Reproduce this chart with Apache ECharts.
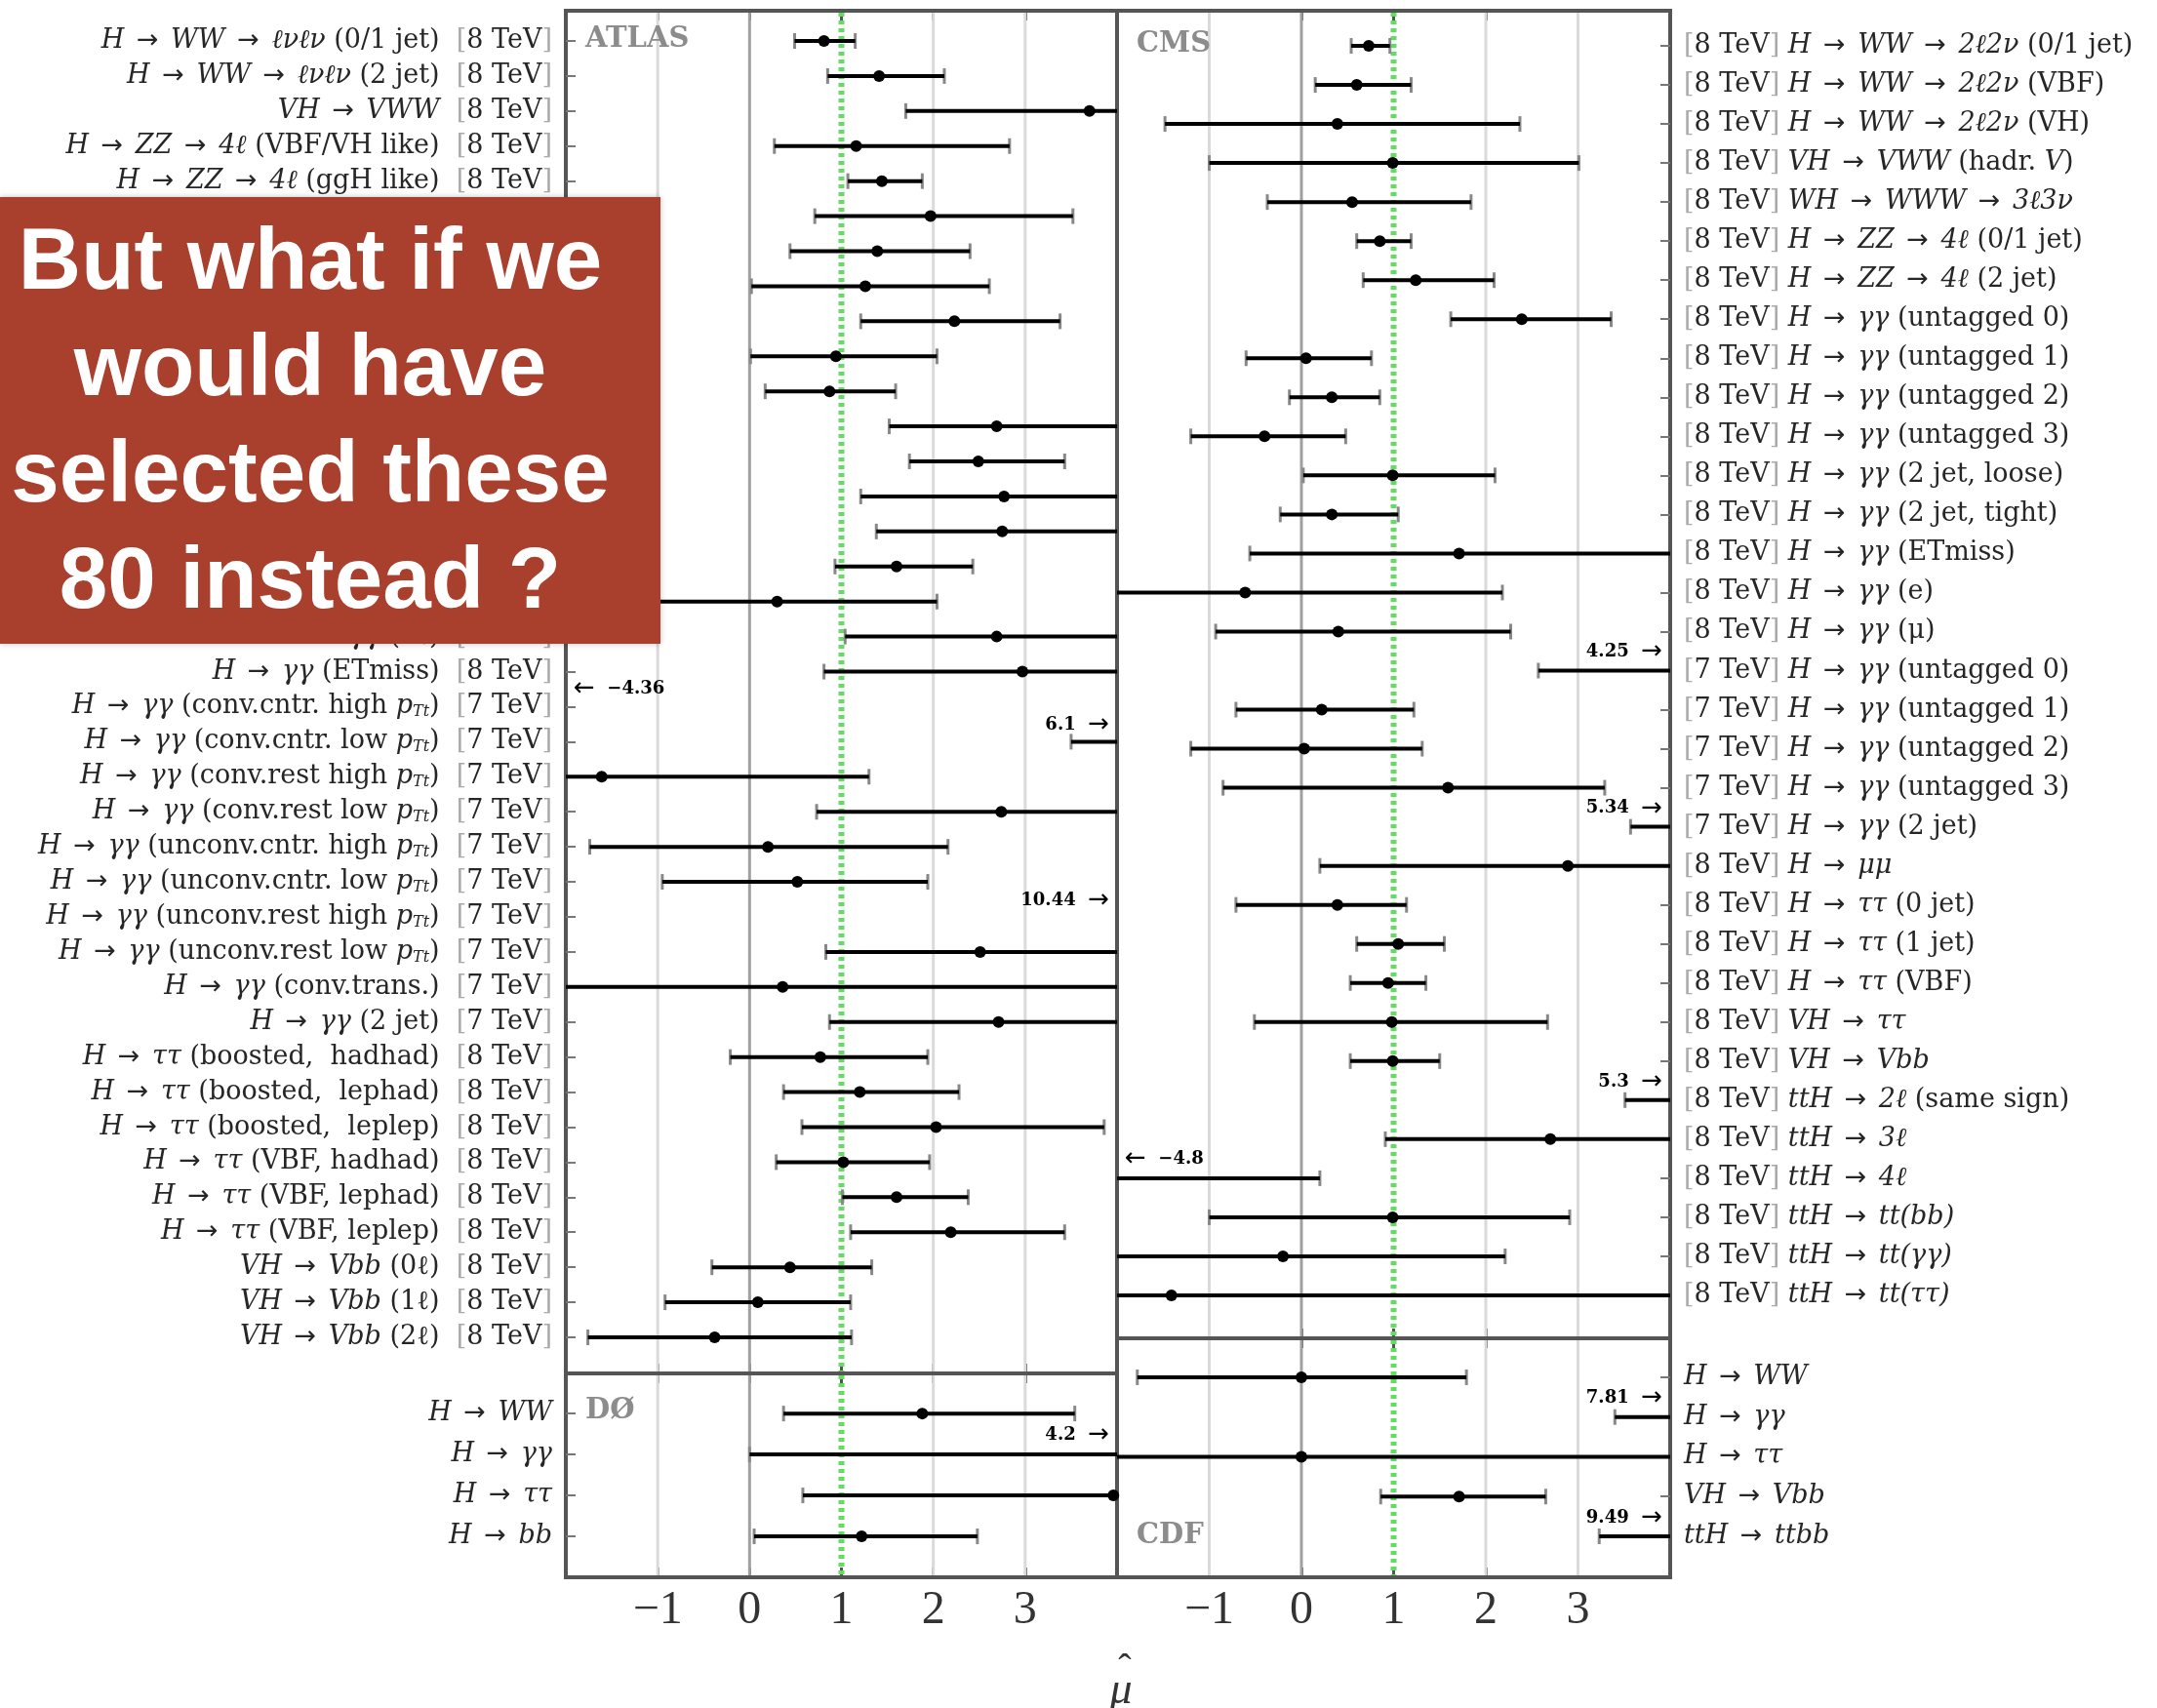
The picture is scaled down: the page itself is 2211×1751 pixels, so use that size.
<!DOCTYPE html>
<html><head><meta charset="utf-8">
<script src="https://cdn.jsdelivr.net/npm/echarts@6/dist/echarts.min.js"></script>
<style>html,body{margin:0;padding:0;background:#fff}#c{width:2211px;height:1751px}</style>
</head><body><div id="c"></div>
<script>
// ---------------- DATA ----------------
const atlasProc = ['H → WW → ℓνℓν','H → WW → ℓνℓν','VH → VWW','H → ZZ → 4ℓ','H → ZZ → 4ℓ',
 'H → γγ','H → γγ','H → γγ','H → γγ','H → γγ','H → γγ','H → γγ','H → γγ','H → γγ','H → γγ','H → γγ','H → γγ','H → γγ','H → γγ',
 'H → γγ','H → γγ','H → γγ','H → γγ','H → γγ','H → γγ','H → γγ','H → γγ','H → γγ','H → γγ',
 'H → ττ','H → ττ','H → ττ','H → ττ','H → ττ','H → ττ',
 'VH → Vbb','VH → Vbb','VH → Vbb'];
const atlasTag = ['(0/1 jet)','(2 jet)','','(VBF/VH like)','(ggH like)',
 '(conv.cntr. high pTt)','(conv.cntr. low pTt)','(conv.rest high pTt)','(conv.rest low pTt)','(unconv.cntr. high pTt)','(unconv.cntr. low pTt)','(unconv.rest high pTt)','(unconv.rest low pTt)','(conv.trans.)','(2 jet, loose)','(2 jet, tight)','(low mass 2 jet)','(1ℓ)','(ETmiss)',
 '(conv.cntr. high pTt)','(conv.cntr. low pTt)','(conv.rest high pTt)','(conv.rest low pTt)','(unconv.cntr. high pTt)','(unconv.cntr. low pTt)','(unconv.rest high pTt)','(unconv.rest low pTt)','(conv.trans.)','(2 jet)',
 '(boosted,  hadhad)','(boosted,  lephad)','(boosted,  leplep)','(VBF, hadhad)','(VBF, lephad)','(VBF, leplep)',
 '(0ℓ)','(1ℓ)','(2ℓ)'];
const atlasE = ['8 TeV','8 TeV','8 TeV','8 TeV','8 TeV','8 TeV','8 TeV','8 TeV','8 TeV','8 TeV','8 TeV','8 TeV','8 TeV','8 TeV','8 TeV','8 TeV','8 TeV','8 TeV','8 TeV',
 '7 TeV','7 TeV','7 TeV','7 TeV','7 TeV','7 TeV','7 TeV','7 TeV','7 TeV','7 TeV',
 '8 TeV','8 TeV','8 TeV','8 TeV','8 TeV','8 TeV','8 TeV','8 TeV','8 TeV'];
const atlasMu = [0.81,1.41,3.70,1.16,1.44, 1.97,1.39,1.26,2.23,0.94,0.87,2.69,2.49,2.77,2.75,1.60,0.30,2.69,2.97,
 -4.36,6.1,-1.61,2.74,0.20,0.52,10.44,2.51,0.36,2.71, 0.77,1.20,2.03,1.02,1.60,2.19, 0.44,0.09,-0.38];
const atlasLo = [0.49,0.85,1.70,0.27,1.07, 0.71,0.44,0.02,1.21,0.01,0.17,1.52,1.74,1.21,1.38,0.93,-2.60,1.04,0.81,
 -6.90,3.50,-4.60,0.73,-1.74,-0.95,4.60,0.83,-3.80,0.87, -0.21,0.37,0.57,0.29,1.01,1.10, -0.41,-0.92,-1.76];
const atlasHi = [1.15,2.12,5.90,2.83,1.88, 3.52,2.40,2.61,3.38,2.04,1.59,4.30,3.43,4.40,4.20,2.43,2.04,4.50,5.20,
 -2.20,8.80,1.30,4.80,2.16,1.94,16.30,4.20,4.50,4.60, 1.94,2.28,3.86,1.96,2.38,3.43, 1.33,1.10,1.11];

const cmsE = ['8 TeV','8 TeV','8 TeV','8 TeV','8 TeV','8 TeV','8 TeV','8 TeV','8 TeV','8 TeV','8 TeV','8 TeV','8 TeV','8 TeV','8 TeV','8 TeV',
 '7 TeV','7 TeV','7 TeV','7 TeV','7 TeV',
 '8 TeV','8 TeV','8 TeV','8 TeV','8 TeV','8 TeV','8 TeV','8 TeV','8 TeV','8 TeV','8 TeV','8 TeV'];
const cmsProc = ['H → WW → 2ℓ2ν','H → WW → 2ℓ2ν','H → WW→ 2ℓ2ν','VH → VWW','WH →WWW →3ℓ3ν','H → ZZ → 4ℓ','H → ZZ → 4ℓ',
 'H → γγ','H → γγ','H → γγ','H → γγ','H → γγ','H → γγ','H → γγ','H → γγ','H → γγ',
 'H → γγ','H → γγ','H → γγ','H → γγ','H → γγ',
 'H → μμ','H → ττ','H → ττ','H → ττ','VH → ττ','VH → Vbb','ttH → 2ℓ','ttH → 3ℓ','ttH → 4ℓ','ttH → tt(bb)','ttH → tt(γγ)','ttH → tt(ττ)'];
const cmsTag = ['(0/1 jet)','(VBF)','(VH)','(hadr. V)','','(0/1 jet)','(2 jet)',
 '(untagged 0)','(untagged 1)','(untagged 2)','(untagged 3)','(2 jet, loose)','(2 jet, tight)','(ETmiss)','(e)','(μ)',
 '(untagged 0)','(untagged 1)','(untagged 2)','(untagged 3)','(2 jet)',
 '','(0 jet)','(1 jet)','(VBF)','','','(same sign)','','','','',''];
const cmsMu = [0.73,0.60,0.39,0.99,0.55,0.85,1.24,2.39,0.05,0.33,-0.40,0.99,0.33,1.71,-0.61,0.40,
 4.25,0.22,0.03,1.59,5.34,2.89,0.39,1.05,0.94,0.98,0.99,5.3,2.70,-4.8,0.99,-0.20,-1.41];
const cmsLo = [0.54,0.15,-1.48,-1.00,-0.37,0.60,0.67,1.62,-0.60,-0.13,-1.20,0.02,-0.23,-0.56,-3.10,-0.93,
 2.57,-0.71,-1.20,-0.85,3.57,0.20,-0.71,0.60,0.53,-0.51,0.53,3.51,0.91,-9.00,-1.00,-2.40,-4.50];
const cmsHi = [0.96,1.19,2.37,3.01,1.84,1.19,2.09,3.36,0.76,0.85,0.48,2.10,1.05,4.60,2.18,2.27,
 6.10,1.22,1.31,3.29,7.40,5.60,1.14,1.55,1.35,2.67,1.50,7.40,5.00,0.20,2.91,2.21,4.60];

const d0Proc = ['H → WW','H → γγ','H → ττ','H → bb'];
const d0Mu = [1.88,4.2,3.96,1.22];
const d0Lo = [0.37,0.00,0.58,0.05];
const d0Hi = [3.54,8.80,8.00,2.48];

const cdfProc = ['H → WW','H → γγ','H → ττ','VH → Vbb','ttH → ttbb'];
const cdfMu = [0.00,7.81,0.00,1.71,9.49];
const cdfLo = [-1.78,3.40,-3.00,0.86,3.23];
const cdfHi = [1.79,12.40,4.40,2.65,16.00];

const xTickVals = [-1,0,1,2,3];
const gridVals = [-1,0,2,3];
const smVal = 1;
const panelNames = ['ATLAS','CMS','DØ','CDF'];

// ---------------- CHART ----------------
const XMIN = -2, XMAX = 4;
const SERIF = 'DejaVu Serif';
const FS = 27;
const rich = {
  m: {fontFamily: SERIF, fontStyle: 'italic', fontSize: FS, color: '#262626'},
  r: {fontFamily: SERIF, fontSize: FS, color: '#262626'},
  a: {fontFamily: 'DejaVu Sans', fontSize: FS, color: '#262626', padding: [0, 4]},
  g: {fontFamily: SERIF, fontSize: FS, color: '#aaa'},
  s: {fontFamily: SERIF, fontStyle: 'italic', fontSize: 16, color: '#262626', verticalAlign: 'bottom'}
};
function tagRich(t) {
  if (!t) return '';
  return '{r| ' + t.replace('pTt', '}{m|p}{s|Tt}{r|').replace('hadr. V)', 'hadr. }{m|V}{r|)') + '}';
}
function procRich(p) {
  return p.split('→').map(s => '{m|' + s.trim() + '}').join('{a| → }');
}
function idx(n) { const a = []; for (let i = 0; i < n; i++) a.push(i); return a; }

const grids = [
  {left: 580, top: 11, width: 565, height: 1397},
  {left: 1145, top: 11, width: 567, height: 1361},
  {left: 580, top: 1408, width: 565, height: 209},
  {left: 1145, top: 1372, width: 567, height: 245}
];
const yRanges = [[-0.863, 38.03], [-0.9, 33.1], [-0.98, 4.0], [-0.98, 5.03]];
const nRows = [atlasMu.length, cmsMu.length, d0Mu.length, cdfMu.length];
const labelFmt = [
  v => { const i = Math.round(v); return procRich(atlasProc[i]) + tagRich(atlasTag[i]) + '{r|  }{g|[}{r|' + atlasE[i] + '}{g|]}'; },
  v => { const i = Math.round(v); return '{g|[}{r|' + cmsE[i] + '}{g|]}{r| }' + procRich(cmsProc[i]) + tagRich(cmsTag[i]); },
  v => procRich(d0Proc[Math.round(v)]),
  v => procRich(cdfProc[Math.round(v)])
];
const ySide = ['left','right','left','right'];

const xAxes = [], yAxes = [];
for (let k = 0; k < 4; k++) {
  const bottomPanel = k >= 2;
  xAxes.push({
    gridIndex: k, type: 'value', min: XMIN, max: XMAX, position: 'bottom',
    axisLine: {show: false, onZero: false}, splitLine: {show: false},
    axisTick: {show: true, inside: true, length: 10, customValues: xTickVals, lineStyle: {color: '#555', width: 3}},
    axisLabel: {show: bottomPanel, customValues: xTickVals, margin: 10,
      formatter: v => (v < 0 ? '−' + (-v) : String(v)),
      fontFamily: 'Liberation Serif', fontSize: 48, color: '#333'}
  });
}
for (let k = 0; k < 4; k++) {
  xAxes.push({
    gridIndex: k, type: 'value', min: XMIN, max: XMAX, position: 'top',
    axisLine: {show: false, onZero: false}, splitLine: {show: false}, axisLabel: {show: false},
    axisTick: {show: true, inside: true, length: 10, customValues: xTickVals, lineStyle: {color: '#555', width: 3}}
  });
}
for (let k = 0; k < 4; k++) {
  yAxes.push({
    gridIndex: k, type: 'value', inverse: true, min: yRanges[k][0], max: yRanges[k][1], position: ySide[k],
    axisLine: {show: false, onZero: false}, splitLine: {show: false},
    axisTick: {show: true, inside: true, length: 10, customValues: idx(nRows[k]), lineStyle: {color: '#777', width: 2}},
    axisLabel: {show: true, customValues: idx(nRows[k]), margin: 14, formatter: labelFmt[k], rich: rich}
  });
}

const annRich = {
  n: {fontFamily: 'DejaVu Serif', fontWeight: 'bold', fontSize: 18, color: '#555'},
  a: {fontFamily: 'DejaVu Sans', fontSize: 26, color: '#555'}
};
function fmtNum(v) { return String(Math.abs(v)); }
function renderBar(params, api) {
  const i = api.value(0), mu = api.value(1), lo = api.value(2), hi = api.value(3);
  const step = api.size([0, 1])[1];
  const ch = [];
  const a = Math.max(lo, XMIN), b = Math.min(hi, XMAX);
  if (b > a) {
    const p1 = api.coord([a, i]), p2 = api.coord([b, i]);
    if (lo >= XMIN) ch.push({type: 'line', shape: {x1: p1[0], y1: p1[1] - 8, x2: p1[0], y2: p1[1] + 8}, style: {stroke: '#888', lineWidth: 3}});
    if (hi <= XMAX) ch.push({type: 'line', shape: {x1: p2[0], y1: p2[1] - 8, x2: p2[0], y2: p2[1] + 8}, style: {stroke: '#888', lineWidth: 3}});
    ch.push({type: 'line', shape: {x1: p1[0], y1: p1[1], x2: p2[0], y2: p2[1]}, style: {stroke: '#000', lineWidth: 4}});
  }
  if (mu >= XMIN && mu <= XMAX) {
    const p = api.coord([mu, i]);
    ch.push({type: 'circle', shape: {cx: p[0], cy: p[1], r: 6}, style: {fill: '#000'}});
  } else if (mu > XMAX) {
    const p = api.coord([XMAX, i]);
    ch.push({type: 'text', x: p[0] - 8, y: p[1] - 0.47 * step,
      style: {text: '{n|' + fmtNum(mu) + '  }{a|→}', rich: annRich, align: 'right', textAlign: 'right', verticalAlign: 'middle', textVerticalAlign: 'middle'}});
  } else {
    const p = api.coord([XMIN, i]);
    ch.push({type: 'text', x: p[0] + 8, y: p[1] - 0.5 * step,
      style: {text: '{a|←}{n|  −' + fmtNum(mu) + '}', rich: annRich, align: 'left', textAlign: 'left', verticalAlign: 'middle', textVerticalAlign: 'middle'}});
  }
  return {type: 'group', children: ch};
}
function renderGridLine(params, api) {
  const v = api.value(0);
  const cs = params.coordSys;
  const x = api.coord([v, 0])[0];
  let style;
  if (v === smVal) style = {stroke: '#5ee05e', lineWidth: 6, lineDash: [4, 4]};
  else if (v === 0) style = {stroke: '#a0a0a0', lineWidth: 3};
  else style = {stroke: '#dadada', lineWidth: 3};
  return {type: 'line', shape: {x1: x, y1: cs.y + 2, x2: x, y2: cs.y + cs.height - 2}, style: style};
}

const sets = [[atlasMu, atlasLo, atlasHi], [cmsMu, cmsLo, cmsHi], [d0Mu, d0Lo, d0Hi], [cdfMu, cdfLo, cdfHi]];
const series = [];
for (let k = 0; k < 4; k++) {
  series.push({
    type: 'custom', xAxisIndex: k, yAxisIndex: k, z: 1, silent: true,
    renderItem: renderGridLine, encode: {x: 0, y: 1},
    data: gridVals.concat([smVal]).map(v => [v, 0])
  });
  const [mu, lo, hi] = sets[k];
  series.push({
    type: 'custom', xAxisIndex: k, yAxisIndex: k, z: 3, silent: true,
    renderItem: renderBar, encode: {x: [1, 2, 3], y: 0},
    data: mu.map((m, i) => [i, m, lo[i], hi[i]])
  });
}

const gridOpts = grids.map(g => Object.assign({show: true, borderColor: '#555', borderWidth: 4, backgroundColor: 'transparent', containLabel: false}, g));

const nameFont = 'bold 29px "DejaVu Serif"';
const option = {
  animation: false,
  backgroundColor: '#fff',
  grid: gridOpts,
  xAxis: xAxes,
  yAxis: yAxes,
  series: series,
  graphic: [
    {type: 'text', x: 600, y: 40, z: 10, style: {text: panelNames[0], font: nameFont, fill: '#8c8c8c', textVerticalAlign: 'middle', verticalAlign: 'middle'}},
    {type: 'text', x: 1165, y: 45, z: 10, style: {text: panelNames[1], font: nameFont, fill: '#8c8c8c', textVerticalAlign: 'middle', verticalAlign: 'middle'}},
    {type: 'text', x: 600, y: 1446, z: 10, style: {text: panelNames[2], font: nameFont, fill: '#8c8c8c', textVerticalAlign: 'middle', verticalAlign: 'middle'}},
    {type: 'text', x: 1165, y: 1574, z: 10, style: {text: panelNames[3], font: nameFont, fill: '#8c8c8c', textVerticalAlign: 'middle', verticalAlign: 'middle'}},
    {type: 'text', x: 1149, y: 1734, z: 10, style: {text: 'μ', font: 'italic 46px "Liberation Serif"', fill: '#333', textAlign: 'center', align: 'center', textVerticalAlign: 'middle', verticalAlign: 'middle'}},
    {type: 'text', x: 1153, y: 1712, z: 10, style: {text: 'ˆ', font: '40px "Liberation Serif"', fill: '#333', textAlign: 'center', align: 'center', textVerticalAlign: 'middle', verticalAlign: 'middle'}},
    {type: 'rect', z: 100, shape: {x: 0, y: 202, width: 677, height: 458}, style: {fill: '#a9402d', shadowBlur: 6, shadowColor: 'rgba(0,0,0,0.25)'}},
    {type: 'text', z: 101, x: 318, y: 435, style: {text: 'But what if we\nwould have\nselected these\n80 instead ?', font: 'bold 89px "Liberation Sans"', fill: '#fff', lineHeight: 109, textAlign: 'center', align: 'center', textVerticalAlign: 'middle', verticalAlign: 'middle'}}
  ]
};
const chart = echarts.init(document.getElementById('c'), null, {renderer: 'canvas'});
chart.setOption(option);
</script>
</body></html>
